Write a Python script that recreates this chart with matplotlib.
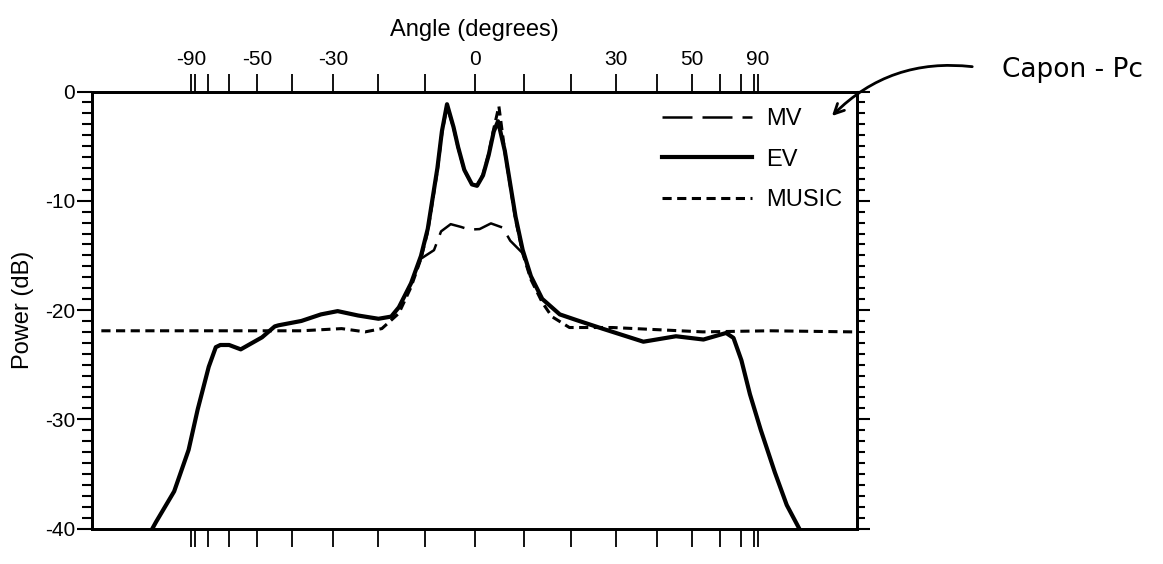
import numpy as np
import matplotlib.pyplot as plt
from matplotlib.ticker import MultipleLocator

plt.rcParams['font.family'] = ['Liberation Sans', 'DejaVu Sans']
plt.rcParams['axes.unicode_minus'] = False

# x is sin(angle), y is power in dB
ev_u = [-1.141, -1.124, -1.060, -1.009, -0.977, -0.938, -0.913, -0.897,
        -0.866, -0.825, -0.750, -0.705, -0.692, -0.611, -0.542, -0.483,
        -0.411, -0.339, -0.294, -0.267, -0.224, -0.189, -0.165, -0.148,
        -0.131, -0.115, -0.097, -0.074, -0.058, -0.036, -0.009, 0.009, 0.030,
        0.050, 0.068, 0.083, 0.107, 0.126, 0.145, 0.170, 0.199, 0.239, 0.301,
        0.361, 0.451, 0.596, 0.711, 0.808, 0.888, 0.914, 0.942, 0.972,
        1.010, 1.060, 1.102, 1.148]
ev_db = [-40.2, -39.4, -36.6, -32.8, -29.1, -25.2, -23.4, -23.2,
         -23.2, -23.6, -22.5, -21.5, -21.4, -21.0, -20.4, -20.1,
         -20.5, -20.8, -20.6, -19.75, -17.55, -15.05, -12.57, -9.79,
         -7.01, -3.63, -1.16, -3.26, -5.07, -7.17, -8.50, -8.63, -7.68,
         -5.82, -3.66, -2.72, -5.43, -8.46, -11.48, -14.50, -16.90, -18.98,
         -20.40, -20.93, -21.7, -22.9, -22.4, -22.7, -22.1, -22.55, -24.6,
         -27.7, -30.95, -34.86, -37.85, -40.1]

# MV lies under EV on the flanks, only the central hump differs
mv_u = [-1.141, -1.124, -1.060, -1.009, -0.977, -0.938, -0.913, -0.897,
        -0.866, -0.825, -0.750, -0.705, -0.692, -0.611, -0.542, -0.483,
        -0.411, -0.339, -0.294, -0.267, -0.224, -0.189, -0.143, -0.118,
        -0.084, -0.048, -0.018, 0.018, 0.058, 0.100, 0.126, 0.170, 0.199,
        0.239, 0.301, 0.361, 0.451, 0.596, 0.711, 0.808, 0.888, 0.914,
        0.942, 0.972, 1.010, 1.060, 1.102, 1.148]
mv_db = [-40.2, -39.4, -36.6, -32.8, -29.1, -25.2, -23.4, -23.2,
         -23.2, -23.6, -22.5, -21.5, -21.4, -21.0, -20.4, -20.1,
         -20.5, -20.8, -20.6, -19.75, -17.55, -15.3, -14.52, -12.80,
         -12.14, -12.39, -12.64, -12.59, -12.07, -12.46, -13.65, -14.8, -16.90,
         -18.98, -20.40, -20.93, -21.7, -22.9, -22.4, -22.7, -22.1, -22.55,
         -24.6, -27.7, -30.95, -34.86, -37.85, -40.1]

music_u = [-1.317, -0.847, -0.610, -0.469, -0.386, -0.327, -0.267, -0.224,
           -0.189, -0.165, -0.148, -0.131, -0.115, -0.097, -0.074, -0.058,
           -0.036, -0.009, 0.009, 0.030, 0.050, 0.068, 0.086, 0.107, 0.126,
           0.145, 0.170, 0.199, 0.239, 0.273, 0.335, 0.487, 0.806, 1.043,
           1.337]
music_db = [-21.9, -21.9, -21.9, -21.7, -22.0, -21.7, -20.3, -17.9,
            -15.3, -12.8, -10.0, -7.2, -3.8, -1.3, -3.3, -5.1,
            -7.2, -8.5, -8.6, -7.6, -5.7, -3.4, -1.34, -5.5, -8.6,
            -11.7, -14.8, -17.2, -19.3, -20.6, -21.6, -21.6, -22.0, -21.9,
            -22.0]

tick_deg = list(range(-90, 91, 10))
label_deg = [-90, -50, -30, 0, 30, 50, 90]
db_ticks = [0, -10, -20, -30, -40]

fig = plt.figure(figsize=(11.63, 5.64), dpi=100)
ax = fig.add_axes([0.0791, 0.0629, 0.6578, 0.7748])

l_mv, = ax.plot(mv_u, mv_db, color='black', lw=1.8, dashes=(12, 4), label='MV')
l_ev, = ax.plot(ev_u, ev_db, color='black', lw=3.0, label='EV')
l_mu, = ax.plot(music_u, music_db, color='black', lw=2.2, dashes=(3, 1.8),
                label='MUSIC')

ax.set_xlim(-1.35, 1.35)
ax.set_ylim(-40, 0)

# angle ticks on a sine scale, top and bottom
ax.set_xticks(np.sin(np.radians(tick_deg)))
ax.set_xticklabels([str(d) if d in label_deg else '' for d in tick_deg])
ax.xaxis.set_label_position('top')
ax.tick_params(axis='x', direction='out', length=13, width=1.3, top=True,
               bottom=True, labeltop=True, labelbottom=False, labelsize=15,
               pad=3)
ax.set_xlabel('Angle (degrees)', fontsize=17, labelpad=10)

ax.set_yticks(db_ticks)
ax.set_yticklabels([str(d) for d in db_ticks])
ax.yaxis.set_minor_locator(MultipleLocator(1))
ax.tick_params(axis='y', which='major', direction='out', length=11, width=1.5,
               labelsize=15, pad=1)
ax.tick_params(axis='y', which='minor', direction='out', length=7, width=1.5)
ax.set_ylabel('Power (dB)', fontsize=17, labelpad=8)

# right side ticks, no labels
ax2 = ax.twinx()
ax2.set_ylim(-40, 0)
ax2.set_yticks(db_ticks)
ax2.yaxis.set_minor_locator(MultipleLocator(1))
ax2.tick_params(axis='y', which='major', direction='out', length=9, width=1.5,
                labelright=False)
ax2.tick_params(axis='y', which='minor', direction='out', length=6, width=1.5)

for a in (ax, ax2):
    for s in a.spines.values():
        s.set_linewidth(2.0)

ax.legend(handles=[l_mv, l_ev, l_mu], loc='upper left',
          bbox_to_anchor=(0.745, 0.962), frameon=False, fontsize=17,
          handlelength=3.8, handletextpad=0.6, labelspacing=0.78,
          borderaxespad=0, borderpad=0)

fig.text(1072 / 1163, 1 - 70 / 564, 'Capon - Pc', fontsize=19,
         family='DejaVu Sans', ha='center', va='center')
ax.annotate('', xy=(830 / 1163, 1 - 118 / 564), xycoords='figure fraction',
            xytext=(975 / 1163, 1 - 67 / 564), textcoords='figure fraction',
            arrowprops=dict(arrowstyle='->,head_length=0.7,head_width=0.35',
                            connectionstyle='arc3,rad=0.25', lw=2,
                            color='black'))

fig.savefig('out.png', dpi=100)
